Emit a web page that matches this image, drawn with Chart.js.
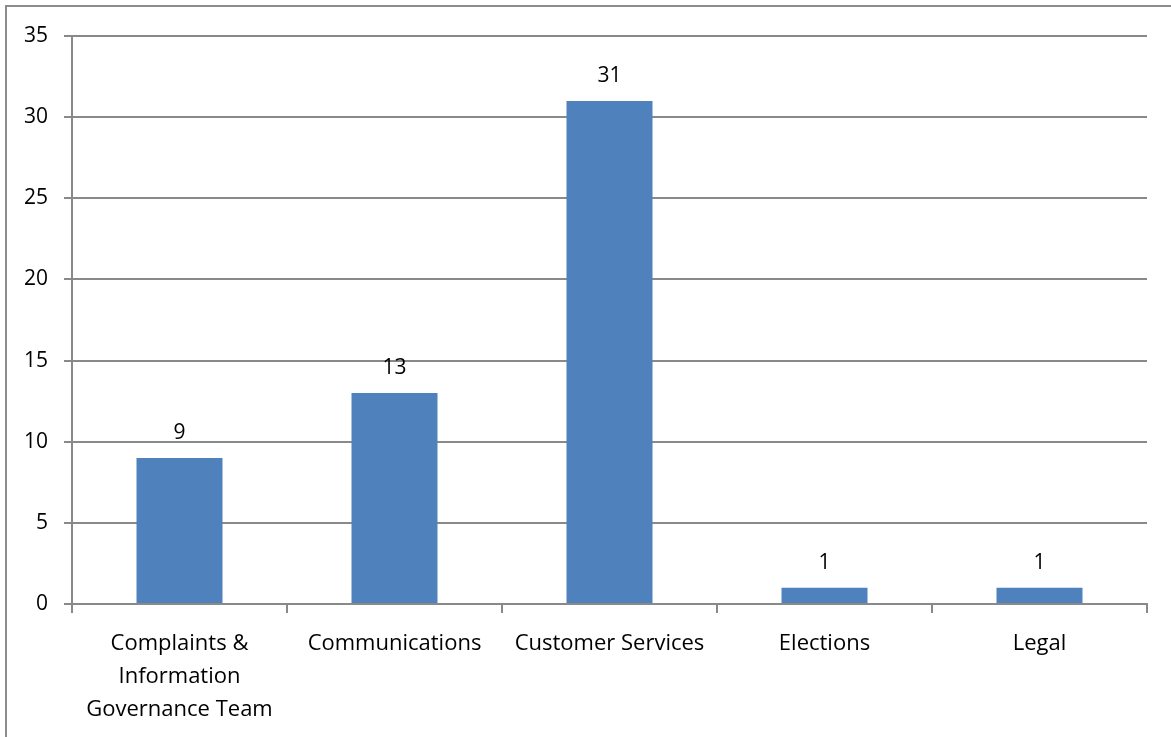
<!DOCTYPE html>
<html>
<head>
<meta charset="utf-8">
<script src="https://cdn.jsdelivr.net/npm/chart.js@4.4.1/dist/chart.umd.min.js"></script>
<style>
  html, body { margin: 0; padding: 0; background: #fff; }
  #wrap { position: relative; width: 1171px; height: 737px; }
</style>
</head>
<body>
<div id="wrap"><canvas id="barChart" width="1171" height="737"></canvas></div>
<script>
var categories = [
    ["Complaints &", "Information", "Governance Team"],
    "Communications",
    "Customer Services",
    "Elections",
    "Legal"
];
var counts = [9, 13, 31, 1, 1];
var yMax = 35;
var yStep = 5;

var fontFamily = "'Open Sans', Lato, sans-serif";
var gridColor = "#898989";

// outer frame of the chart object (right/bottom edges fall off the picture)
var framePlugin = {
    id: "frame",
    beforeDraw: function(chart) {
        var ctx = chart.ctx;
        ctx.save();
        ctx.strokeStyle = "#8c8c8c";
        ctx.lineWidth = 2;
        ctx.strokeRect(6, 6, 2000, 2000);
        ctx.restore();
    }
};

// value labels above bars
var valueLabels = {
    id: "valueLabels",
    afterDatasetsDraw: function(chart) {
        var ctx = chart.ctx;
        var meta = chart.getDatasetMeta(0);
        ctx.save();
        ctx.font = "21px " + fontFamily;
        ctx.fillStyle = "#000";
        ctx.textAlign = "center";
        ctx.textBaseline = "alphabetic";
        meta.data.forEach(function(bar, i) {
            ctx.fillText(String(counts[i]), bar.x, bar.y - 19);
        });
        ctx.restore();
    }
};

function loadChart() {
    var ctx = document.getElementById("barChart");
    var chart = new Chart(ctx, {
        type: "bar",
        data: {
            labels: categories,
            datasets: [{
                data: counts,
                backgroundColor: "#4f81bd",
                borderWidth: 0,
                categoryPercentage: 1.0,
                barPercentage: 0.4
            }]
        },
        options: {
            responsive: false,
            animation: false,
            layout: { padding: { top: 36, right: 24, left: 0, bottom: 0 } },
            plugins: {
                legend: { display: false },
                tooltip: { enabled: false }
            },
            scales: {
                x: {
                    offset: true,
                    grid: {
                        offset: true,
                        drawOnChartArea: false,
                        color: gridColor,
                        lineWidth: 2,
                        tickLength: 9
                    },
                    border: { color: gridColor, width: 2 },
                    ticks: {
                        color: "#000",
                        font: { family: fontFamily, size: 22, lineHeight: 1.5 },
                        padding: 14,
                        maxRotation: 0,
                        autoSkip: false
                    },
                    afterFit: function(scale) { scale.height = 133; }
                },
                y: {
                    min: 0,
                    max: yMax,
                    ticks: {
                        stepSize: yStep,
                        color: "#000",
                        font: { family: fontFamily, size: 21 },
                        padding: 16
                    },
                    grid: {
                        color: gridColor,
                        lineWidth: 2,
                        tickLength: 8
                    },
                    border: { color: gridColor, width: 2 },
                    afterFit: function(scale) { scale.width = 72; }
                }
            }
        },
        plugins: [framePlugin, valueLabels]
    });
    return chart;
}

loadChart();
</script>
</body>
</html>
